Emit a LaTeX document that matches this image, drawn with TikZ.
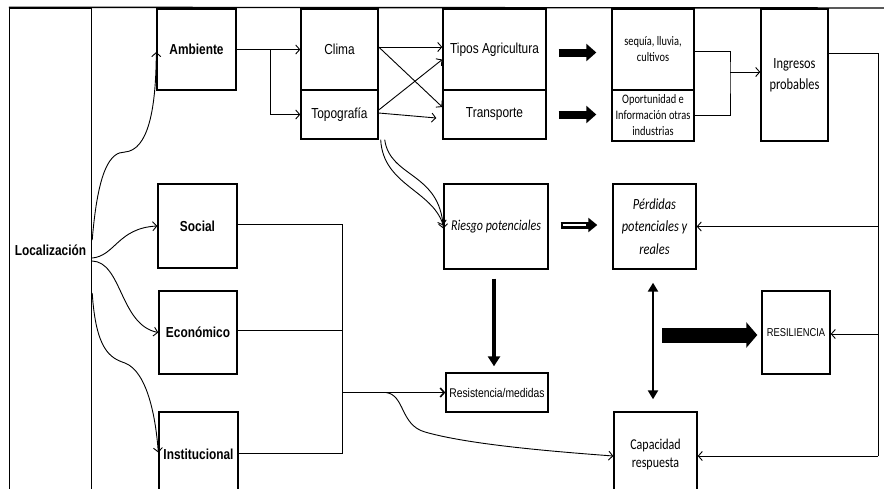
\documentclass[tikz,border=0pt]{standalone}
\usepackage{fontspec}
\setmainfont{Liberation Sans}[FakeStretch=0.82]
\newfontfamily\calfont{Carlito}[FakeStretch=0.8]
\usetikzlibrary{arrows.meta}
\begin{document}
\begin{tikzpicture}[x=1pt,y=-1pt,
  box/.style={draw, line width=1.4pt, rectangle, inner sep=0pt, align=center,
    font=\fontsize{14.5}{17}\selectfont},
  calbox/.style={box, font=\calfont\fontsize{15.5}{21}\selectfont},
  smallbox/.style={box, font=\calfont\fontsize{13}{16}\selectfont},
  wire/.style={line width=0.9pt},
  conn/.style={line width=0.9pt, -{Straight Barb[length=4pt,width=9pt]}},
  fatarrow/.style={line width=8pt, -{Triangle[length=10pt,width=17pt]}},
]
\useasboundingbox (0,0) rectangle (884,488);

% left column and top frame line
\node[box, minimum width=82pt, minimum height=484pt] (loc) at (50.5,250)
  {\bfseries Localización};
\coordinate (frameend) at (884,8);
\draw[line width=1.4pt] (loc.north west) -- (frameend);

% dimensions of location
\node[box, minimum width=79pt, minimum height=81pt] (amb) at (196.5,49.5) {\bfseries Ambiente};
\node[box, minimum width=79pt, minimum height=84pt] (soc) at (197.5,226) {\bfseries Social};
\node[box, minimum width=78pt, minimum height=83pt] (eco) at (198,332.5) {\bfseries Económico};
\node[box, minimum width=79pt, minimum height=84pt] (inst) at (198.5,454) {\bfseries Institucional};

% environment factors
\node[box, minimum width=77pt, minimum height=81pt] (clima) at (339.5,49.5) {Clima};
\node[box, minimum width=77pt, minimum height=49pt] (topo) at (339.5,114.5) {Topografía};
\node[box, minimum width=103pt, minimum height=81pt] (tipos) at (494.5,49.5) {Tipos Agricultura};
\node[box, minimum width=103pt, minimum height=49pt] (trans) at (494.5,114.5) {Transporte};
\node[smallbox, minimum width=82pt, minimum height=81pt] (seq) at (653,49.5) {sequía, lluvia,\\cultivos};
\node[smallbox, minimum width=82pt, minimum height=51pt] (opor) at (653,115.5)
  {Oportunidad e\\Información otras\\industrias};
\node[calbox, minimum width=67pt, minimum height=132pt] (ingr) at (794.5,75) {Ingresos\\probables};

% risk, losses and resilience
\node[box, minimum width=104pt, minimum height=85pt, font=\calfont\itshape\fontsize{15}{18}\selectfont]
  (riesgo) at (496,226.5) {Riesgo potenciales};
\node[box, minimum width=102pt, minimum height=39pt, font=\fontsize{12.6}{15}\selectfont]
  (resist) at (497,392.5) {Resistencia/medidas};
\node[calbox, minimum width=83pt, minimum height=85pt, font=\calfont\itshape\fontsize{15.5}{22.5}\selectfont]
  (perd) at (654.5,226.5) {Pérdidas\\potenciales y\\reales};
\node[box, minimum width=68pt, minimum height=83pt, font=\fontsize{11.4}{14}\selectfont]
  (resil) at (796,332.5) {RESILIENCIA};
\node[calbox, minimum width=83pt, minimum height=84pt, font=\calfont\fontsize{15}{18}\selectfont]
  (capac) at (655.5,454) {Capacidad\\respuesta};

% from location to its dimensions
\draw[conn] ([yshift=10pt]loc.east) .. controls (98,170) and (110,152) .. (125,152)
  .. controls (148,150) and (156,110) .. ([yshift=-2.5pt]amb.west);
\draw[conn] ([yshift=-8pt]loc.east) .. controls (115,256) and (118,228) .. (soc.west);
\draw[conn] ([yshift=-11pt]loc.east) .. controls (122,262) and (120,325) .. (eco.west);
\draw[conn] ([yshift=-43pt]loc.east) .. controls (96,350) and (110,358) .. (125,363)
  .. controls (148,372) and (156,420) .. ([yshift=1.5pt]inst.west);

% environment to climate and topography
\coordinate (ambsplit) at (270,49.5);
\draw[conn] (amb.east) -- (clima.west);
\draw[conn] (ambsplit) |- (topo.west);

% climate and topography to agriculture and transport
\draw[conn] ([yshift=2.5pt]clima.east) -- ([yshift=2.5pt]tipos.west);
\draw[conn] ([yshift=2.5pt]clima.east) -- ([yshift=7.5pt]trans.west);
\draw[conn] ([yshift=4.5pt]topo.east) -- ([yshift=-10pt]tipos.west);
\draw[conn] ([yshift=1.5pt]topo.east) -- ([xshift=-6pt,yshift=-3.5pt]trans.west);

% topography to potential risk
\draw[conn] ([xshift=2pt]topo.south east) .. controls (383,185) and (432,190) .. ([yshift=1pt]riesgo.west);
\draw[conn] ([xshift=6pt]topo.south east) .. controls (390,178) and (440,172) .. ([yshift=-2pt]riesgo.west);

% thick arrows
\draw[fatarrow, shorten <=12pt, shorten >=15pt] ([yshift=-3pt]tipos.east) -- ([yshift=-3pt]seq.west);
\draw[fatarrow, shorten <=12pt, shorten >=15pt] (trans.east) -- (trans.east -| opor.west);
\draw[line width=7pt, -{Triangle[length=9pt,width=14pt]}, shorten <=12pt, shorten >=15pt]
  ([yshift=1.5pt]riesgo.east) -- ([yshift=1.5pt]perd.west);
\draw[white, line width=1.6pt, shorten <=14pt, shorten >=26pt]
  ([yshift=1.5pt]riesgo.east) -- ([yshift=1.5pt]perd.west);
\draw[line width=4pt, -{Triangle[length=10pt,width=12pt]}, shorten <=9pt, shorten >=6pt]
  ([xshift=-2pt]riesgo.south) -- ([xshift=-2pt]riesgo.south |- resist.north);
\draw[line width=2.6pt, {Triangle[length=9pt,width=10pt]}-{Triangle[length=9pt,width=10pt]},
  shorten <=13pt, shorten >=12pt] ([xshift=-1.5pt]perd.south) -- ([xshift=-2.5pt]capac.north);
\coordinate (bigtail) at (662,335);
\draw[line width=15pt, -{Triangle[length=11pt,width=25pt]}, shorten >=4pt]
  (bigtail) -- (bigtail -| resil.west);

% agriculture outcomes to probable income
\coordinate (incjoin) at (730,72);
\draw[wire] ([yshift=-1.5pt]seq.east) -| (incjoin) |- (opor.east);
\draw[conn] (incjoin) -- (incjoin -| ingr.west);

% feedback line on the right
\coordinate (rtop) at (878,53);
\coordinate (rbot) at (878,456);
\draw[wire] ([yshift=22pt]ingr.east) -- (rtop) -- (rbot);
\draw[conn] (perd.east -| rtop) -- (perd.east);
\draw[conn] ([yshift=-1.5pt]resil.east -| rtop) -- ([yshift=-1.5pt]resil.east);
\draw[conn] (rbot) -- (rbot -| capac.east);

% social, economic and institutional to resistance and response
\coordinate (sjoin) at (342,392.5);
\coordinate (curvestart) at (386,392.5);
\draw[wire] ([yshift=2pt]soc.east) -| (sjoin);
\draw[wire] ([yshift=2.5pt]eco.east) -- ([yshift=2.5pt]eco.east -| sjoin);
\draw[wire] ([yshift=1pt]inst.east) -| (sjoin);
\draw[line width=1.6pt, -{Straight Barb[length=4pt,width=9pt]}] (sjoin) -- (resist.west);
\draw[conn] (curvestart) .. controls (405,395) and (400,425) .. (425,432)
  .. controls (470,445) and (560,452) .. ([yshift=-2pt]capac.west);
\end{tikzpicture}
\end{document}
